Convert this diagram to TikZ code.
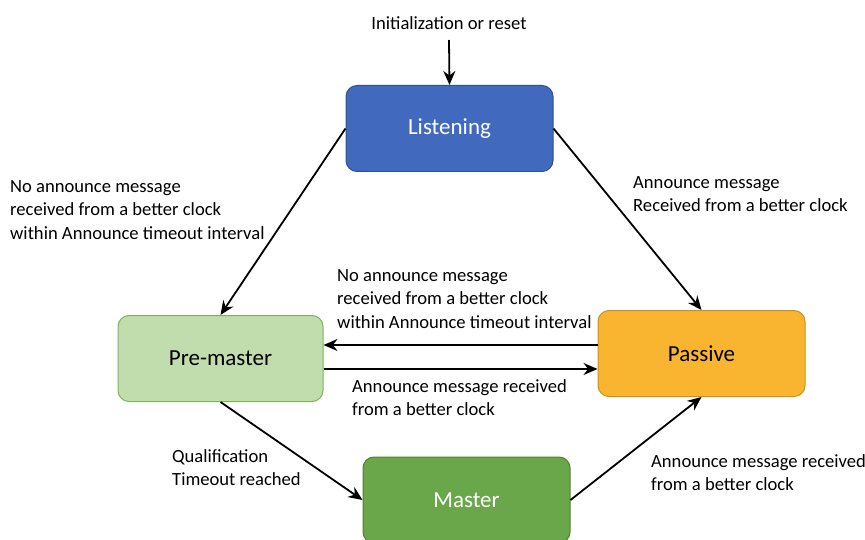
\documentclass[tikz,border=0pt]{standalone}
\usepackage{fontspec}
\setmainfont{Carlito}
\usetikzlibrary{arrows.meta,positioning,calc}

\definecolor{listenfill}{HTML}{4169BE}
\definecolor{listenline}{HTML}{2F528F}
\definecolor{prefill}{HTML}{C1DDAE}
\definecolor{preline}{HTML}{7DB458}
\definecolor{passfill}{HTML}{F9B530}
\definecolor{passline}{HTML}{C8921C}
\definecolor{mastfill}{HTML}{6AA74A}
\definecolor{mastline}{HTML}{527F36}

\begin{document}
\begin{tikzpicture}[x=1pt,y=-1pt,
    state/.style={draw,line width=1pt,rounded corners=11pt,minimum width=207pt,
      minimum height=86pt,font=\fontsize{23}{28}\selectfont},
    lbl/.style={align=left,inner sep=0pt,font=\fontsize{18.6}{23.5}\selectfont},
    trans/.style={line width=1.8pt,-{Stealth[length=14pt,width=12pt]}}]
  \useasboundingbox (0,0) rectangle (865,540);

  % states
  \node[state,fill=listenfill,draw=listenline,text=white] (listen) at (449.5,128.5) {\raisebox{-3pt}{Listening}};
  \node[state,fill=prefill,draw=preline,minimum width=205pt] (pre) at (220.5,358.5) {\raisebox{-2pt}{Pre-master}};
  \node[state,fill=passfill,draw=passline] (passive) at (701.5,353.5) {\raisebox{-2pt}{Passive}};
  \node[state,fill=mastfill,draw=mastline,text=white] (master) at (466.5,500) {\raisebox{-2pt}{Master}};

  % entry
  \node[lbl] (init) at (449,23) {Initialization or reset};
  \coordinate (start) at (449,40);
  \draw[trans] (start) -- (listen.north);

  % transitions
  \draw[trans] (listen.west) -- (pre.north);
  \node[lbl,anchor=north west] (l2p) at (10,180) {No announce message\\received from a better clock\\within Announce timeout interval};

  \draw[trans] (listen.east) -- (passive.north);
  \node[lbl,anchor=north west] (l2s) at (633,176) {Announce message\\Received from a better clock};

  \draw[trans] ([yshift=8.5pt]passive.west) -- ([yshift=8.5pt]passive.west -| pre.east);
  \node[lbl,anchor=north west] (s2p) at (337,269) {No announce message\\received from a better clock\\within Announce timeout interval};

  \draw[trans] ([yshift=-10.5pt]pre.east) -- ([yshift=-10.5pt]pre.east -| passive.west);
  \node[lbl,anchor=north west] (p2s) at (352,379) {Announce message received\\from a better clock};

  \draw[trans] (pre.south) -- (master.west);
  \node[lbl,anchor=north west] (p2m) at (172,449) {Qualification\\Timeout reached};

  \draw[trans] (master.east) -- (passive.south);
  \node[lbl,anchor=north west] (m2s) at (651,454) {Announce message received\\from a better clock};
\end{tikzpicture}
\end{document}
